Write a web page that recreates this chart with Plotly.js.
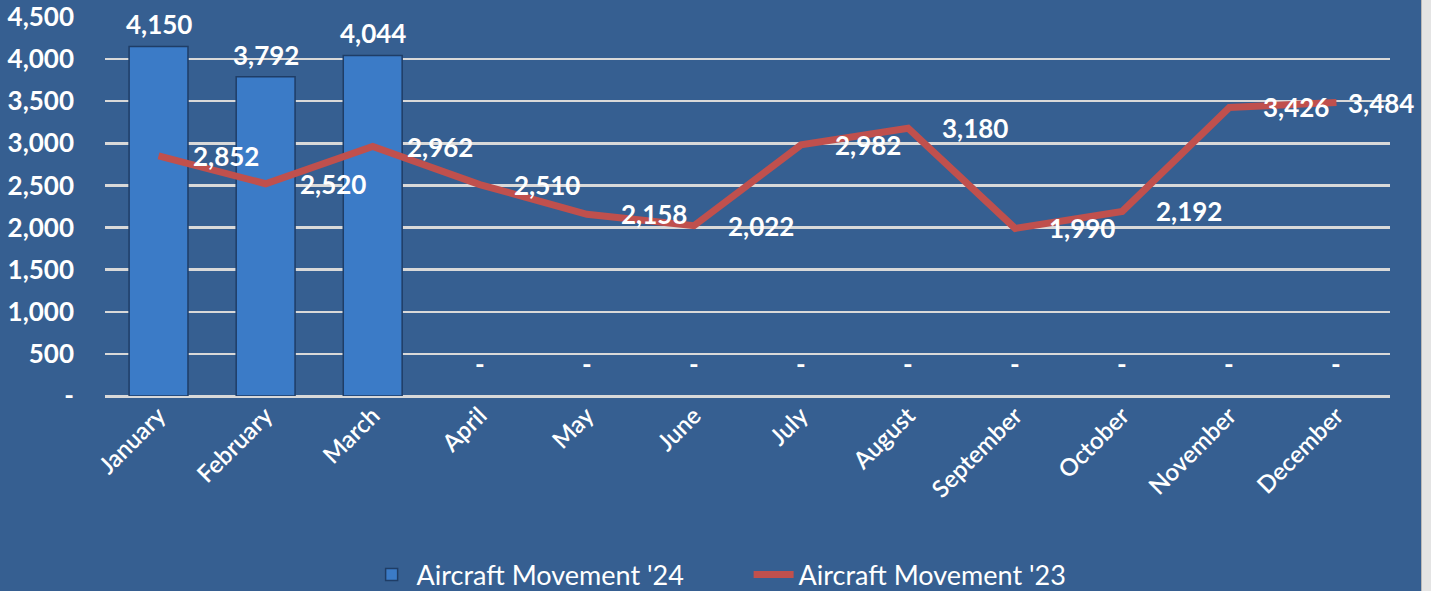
<!DOCTYPE html>
<html>
<head>
<meta charset="utf-8">
<script src="https://cdn.plot.ly/plotly-3.0.1.min.js"></script>
<style>
  html, body { margin: 0; padding: 0; background: #e4e4e4; }
  #chart { width: 1421px; height: 591px; border-right: 1px solid #b8b8b8; }
</style>
</head>
<body>
<div id="chart"></div>
<script>
const months = ['January','February','March','April','May','June','July','August','September','October','November','December'];
const movement24 = [4150, 3792, 4044, 0, 0, 0, 0, 0, 0, 0, 0, 0];
const movement23 = [2852, 2520, 2962, 2510, 2158, 2022, 2982, 3180, 1990, 2192, 3426, 3484];
const yTickVals = [0, 500, 1000, 1500, 2000, 2500, 3000, 3500, 4000, 4500];
const yTickText = ['-', '500', '1,000', '1,500', '2,000', '2,500', '3,000', '3,500', '4,000', '4,500'];

const fmt = v => v === 0 ? '-' : v.toLocaleString('en-US');
const labelFont = {family: 'Lato, sans-serif', size: 26, color: '#ffffff', weight: 'bold'};

const bars = {
  type: 'bar', name: "Aircraft Movement '24",
  x: months, y: movement24, width: 0.55,
  marker: {color: '#3b7bc7', line: {color: '#1f3d66', width: movement24.map(v => v === 0 ? 0 : 1.5)}},
  hoverinfo: 'x+y'
};
const line = {
  type: 'scatter', mode: 'lines', name: "Aircraft Movement '23",
  x: months, y: movement23,
  line: {color: '#c0504d', width: 7}
};

const annotations = [];
movement24.forEach((v, i) => {
  annotations.push({
    x: months[i], y: v, xref: 'x', yref: 'y', text: fmt(v), showarrow: false,
    xanchor: 'center', yanchor: 'bottom', yshift: v === 0 ? 14 : 4,
    font: labelFont
  });
});
movement23.forEach((v, i) => {
  annotations.push({
    x: months[i], y: v, xref: 'x', yref: 'y', text: fmt(v), showarrow: false,
    xanchor: 'left', yanchor: 'middle', xshift: i === movement23.length - 1 ? 10 : 32,
    font: labelFont
  });
});

const layout = {
  width: 1421, height: 591,
  paper_bgcolor: '#365f91', plot_bgcolor: '#365f91',
  margin: {l: 105, r: 31, t: 17, b: 195},
  font: {family: 'Lato, sans-serif', color: '#ffffff'},
  showlegend: true,
  legend: {
    orientation: 'h', xref: 'container', yref: 'container',
    x: 0.258, xanchor: 'left', y: 0.027, yanchor: 'middle',
    font: {family: 'Lato, sans-serif', size: 27, color: '#ffffff'},
    bgcolor: 'rgba(0,0,0,0)', itemwidth: 40, traceorder: 'normal',
    entrywidth: 327, entrywidthmode: 'pixels'
  },
  xaxis: {
    type: 'category', tickangle: -45, showgrid: false, showline: false, ticks: '',
    automargin: false,
    tickfont: {family: 'Lato, sans-serif', size: 24, color: '#ffffff', weight: 600},
    range: [-0.5, 11.5], fixedrange: true
  },
  yaxis: {
    range: [0, 4500], tickvals: yTickVals, ticktext: yTickText,
    showgrid: true, gridcolor: '#d9d9d9', gridwidth: 2.5,
    zeroline: true, zerolinecolor: '#d9d9d9', zerolinewidth: 3,
    showline: false, ticks: '', automargin: false, ticklabelstandoff: 30,
    tickfont: {family: 'Lato, sans-serif', size: 26, color: '#ffffff', weight: 'bold'},
    fixedrange: true
  },
  annotations: annotations
};

Plotly.newPlot('chart', [bars, line], layout, {displayModeBar: false, staticPlot: true});
</script>
</body>
</html>
